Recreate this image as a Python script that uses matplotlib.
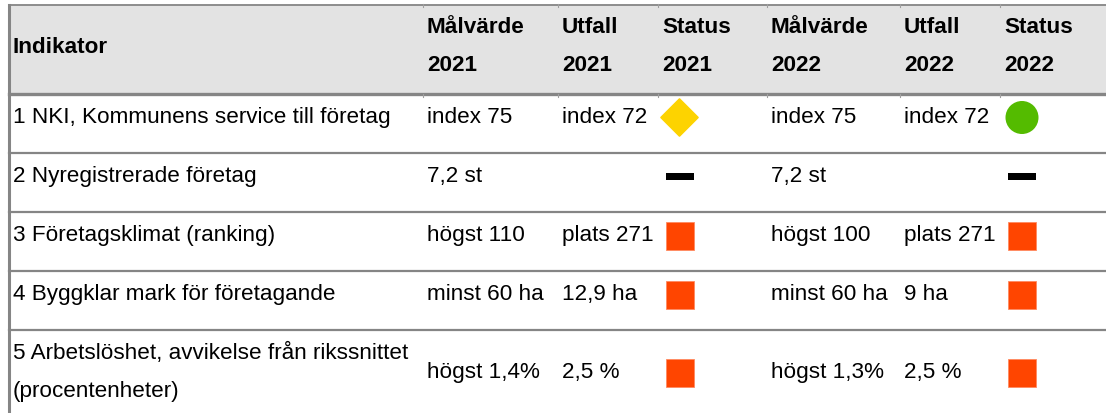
import matplotlib
matplotlib.use("Agg")
import matplotlib.pyplot as plt
from matplotlib.patches import Rectangle, Circle, Polygon

# Table content
headers = ["Indikator", "Målvärde\n2021", "Utfall\n2021", "Status\n2021",
           "Målvärde\n2022", "Utfall\n2022", "Status\n2022"]
indicators = ["1 NKI, Kommunens service till företag",
              "2 Nyregistrerade företag",
              "3 Företagsklimat (ranking)",
              "4 Byggklar mark för företagande",
              "5 Arbetslöshet, avvikelse från rikssnittet\n(procentenheter)"]
target_2021 = ["index 75", "7,2 st", "högst 110", "minst 60 ha", "högst 1,4%"]
outcome_2021 = ["index 72", "", "plats 271", "12,9 ha", "2,5 %"]
status_2021 = ["gul", "saknas", "röd", "röd", "röd"]
target_2022 = ["index 75", "7,2 st", "högst 100", "minst 60 ha", "högst 1,3%"]
outcome_2022 = ["index 72", "", "plats 271", "9 ha", "2,5 %"]
status_2022 = ["grön", "saknas", "röd", "röd", "röd"]

# Layout (pixels)
W, H = 1106, 414
col_edges = [9, 423, 558, 658, 767, 900, 1000, W]
pad = 4
line_h = 38
header_top, header_bot = 6, 95
row_pad = 21
font_size = 16.2
grid_color = "#858585"
status_cols = [3, 6]

fig = plt.figure(figsize=(W / 100, H / 100), dpi=100)
ax = fig.add_axes([0, 0, 1, 1])
ax.set_xlim(0, W)
ax.set_ylim(H, 0)
ax.axis("off")

font = dict(family="Liberation Sans", fontsize=font_size, color="black")


def draw_lines(x, first_base, text, bold=False):
    for k, line in enumerate(text.split("\n")):
        ax.text(x, first_base + k * line_h, line, ha="left", va="baseline",
                fontweight="bold" if bold else "normal", **font)


def draw_status(cx, cy, status):
    if status == "gul":
        r = 18.5
        ax.add_patch(Polygon([(cx - r, cy), (cx, cy - r), (cx + r, cy), (cx, cy + r)],
                             closed=True, facecolor="#FDD300", edgecolor="#FDD300",
                             linewidth=1.2, joinstyle="round"))
    elif status == "grön":
        ax.add_patch(Circle((cx, cy), 16.5, facecolor="#54BB00", edgecolor="none"))
    elif status == "röd":
        ax.add_patch(Rectangle((cx - 14, cy - 14), 28, 28, facecolor="#FF4500",
                               edgecolor="#FF8A60", linewidth=0.6))
    else:
        ax.add_patch(Rectangle((cx - 14, cy - 3.5), 28, 7, facecolor="black",
                               edgecolor="none"))


# Header background and text
ax.add_patch(Rectangle((col_edges[0], header_top), W - col_edges[0], header_bot - header_top,
                       facecolor="#E3E3E3", edgecolor="none", zorder=0))
for c, h in enumerate(headers):
    if "\n" in h:
        draw_lines(col_edges[c] + pad, 33.3, h, bold=True)
    else:
        draw_lines(col_edges[c] + pad, 53.3, h, bold=True)

# Body rows
rows = list(zip(indicators, target_2021, outcome_2021, status_2021,
                target_2022, outcome_2022, status_2022))
top = header_bot
row_tops = []
for r, row in enumerate(rows):
    row_tops.append(top)
    n = max(len(str(v).split("\n")) for v in row)
    first_base = top + 28.5
    mid_base = first_base + (n - 1) * line_h / 2
    for c, val in enumerate(row):
        x0 = col_edges[c] + pad
        if c in status_cols:
            cx = (col_edges[c] + 8 + 14) if c == 6 else (col_edges[c] + 21.5)
            draw_status(cx, mid_base - 5, val)
        else:
            lines = val.split("\n")
            base = first_base if len(lines) == n else mid_base
            draw_lines(x0, base, val)
    top += row_pad + n * line_h

# Grid lines
ax.plot([col_edges[0], W], [header_top, header_top], color=grid_color, lw=1.3, zorder=3)
ax.plot([col_edges[0], W], [header_bot, header_bot], color=grid_color, lw=2.4, zorder=3)
for t in row_tops[1:]:
    ax.plot([col_edges[0], W], [t, t], color=grid_color, lw=1.6, zorder=3)
ax.plot([col_edges[0], col_edges[0]], [header_top, H], color=grid_color, lw=2.2, zorder=3)
for x in col_edges[1:-1]:
    ax.plot([x, x], [header_bot, header_bot + 2.5], color="#A0A0A0", lw=0.8, zorder=3)
    ax.plot([x, x], [header_top - 1, header_top + 1.5], color="#A0A0A0", lw=0.8, zorder=3)

fig.savefig("out.png", dpi=100, facecolor="white")
